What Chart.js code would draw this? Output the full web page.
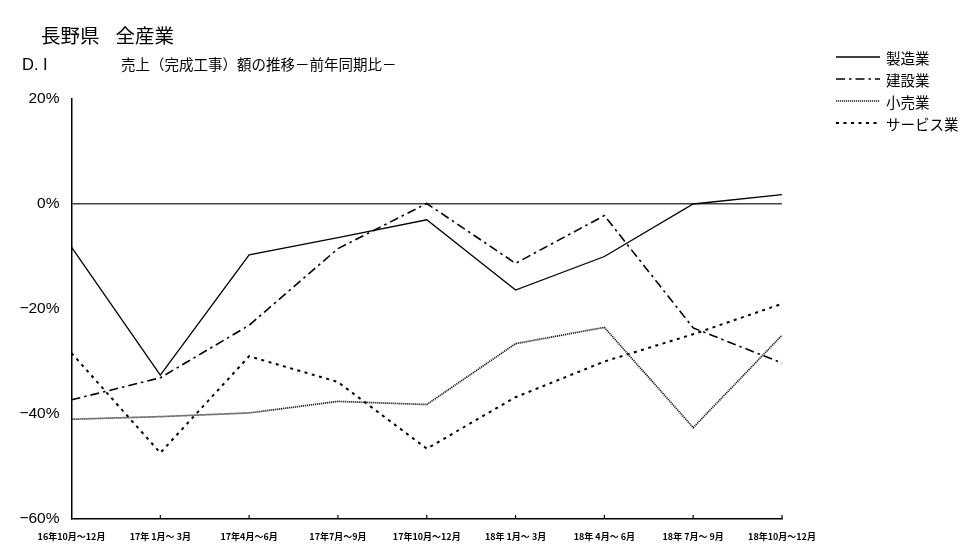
<!DOCTYPE html>
<html>
<head>
<meta charset="utf-8">
<script src="https://cdn.jsdelivr.net/npm/chart.js@4.4.1/dist/chart.umd.min.js"></script>
<style>
  body { margin: 0; background: #fff; }
  #wrap { position: relative; width: 980px; height: 560px; }
  .txt { position: absolute; white-space: pre; color: #000; font-family: "Noto Sans CJK JP", sans-serif; }
</style>
</head>
<body>
<div id="wrap">
  <canvas id="mychart" width="980" height="560"></canvas>
  <div class="txt" style="left:41px; top:22px; font-size:19.5px; line-height:25px;">長野県<span style="margin-left:16px">全産業</span></div>
  <div class="txt" style="left:22px; top:54px; font-size:16.5px; line-height:21px; font-family:'Liberation Sans', sans-serif;">D. I</div>
  <div class="txt" style="left:121px; top:54px; font-size:14.5px; line-height:20px;">売上（完成工事）額の推移－前年同期比－</div>
</div>
<script>
// 期間（横軸）
var labels = ['16年10月～12月', '17年 1月～ 3月', '17年4月～6月', '17年7月～9月', '17年10月～12月',
              '18年 1月～ 3月', '18年 4月～ 6月', '18年 7月～ 9月', '18年10月～12月'];
// 業種名
var seriesNames = ['製造業', '建設業', '小売業', 'サービス業'];
// D.I 値（%）
var seizo   = [-8.2, -32.6, -9.7, -6.4, -3.0, -16.4, -10.0, 0.0, 1.8];
var kensetsu = [-37.3, -33.1, -23.1, -8.5, 0.1, -11.3, -2.2, -23.6, -30.3];
var kouri   = [-41.0, -40.5, -39.8, -37.6, -38.2, -26.6, -23.5, -42.6, -25.0];
var service = [-28.4, -47.4, -29.0, -33.9, -46.6, -36.8, -30.0, -24.8, -19.0];
// 縦軸目盛
var yTicks = [20, 0, -20, -40, -60];

// x軸の内向き目盛と凡例を描く
var extras = {
  id: 'extras',
  afterDraw: function(chart) {
    var ctx = chart.ctx;
    var xs = chart.scales.x;
    var bottom = chart.chartArea.bottom;
    ctx.save();
    ctx.strokeStyle = '#000';
    ctx.lineWidth = 1.2;
    ctx.setLineDash([]);
    for (var i = 1; i < xs.ticks.length; i++) {
      var x = xs.getPixelForTick(i);
      ctx.beginPath();
      ctx.moveTo(x, bottom);
      ctx.lineTo(x, bottom - 4);
      ctx.stroke();
    }
    // 凡例
    var ds = chart.data.datasets;
    for (var k = 0; k < ds.length; k++) {
      var y = 57 + k * 22;
      ctx.beginPath();
      ctx.setLineDash(ds[k].borderDash || []);
      ctx.strokeStyle = ds[k].borderColor;
      ctx.lineWidth = ds[k].borderWidth;
      ctx.moveTo(836, y);
      ctx.lineTo(880, y);
      ctx.stroke();
      ctx.setLineDash([]);
      ctx.fillStyle = '#000';
      ctx.font = '14.5px "Noto Sans CJK JP"';
      ctx.textBaseline = 'middle';
      ctx.fillText(ds[k].label, 886, y + 1);
    }
    ctx.restore();
  }
};

var config = {
  type: 'line',
  data: {
    labels: labels,
    datasets: [
      { label: seriesNames[0], data: seizo, borderColor: '#000', borderWidth: 1.3, borderDash: [] },
      { label: seriesNames[1], data: kensetsu, borderColor: '#000', borderWidth: 1.6, borderDash: [9, 4, 2.5, 4] },
      { label: seriesNames[2], data: kouri, borderColor: '#1a1a1a', borderWidth: 1.7, borderDash: [1.2, 0.8] },
      { label: seriesNames[3], data: service, borderColor: '#000', borderWidth: 2, borderDash: [3, 4.5] }
    ]
  },
  options: {
    responsive: false,
    animation: false,
    elements: { point: { radius: 0 }, line: { tension: 0 } },
    layout: { padding: { top: 99, right: 198, bottom: 0, left: 0 } },
    plugins: { legend: { display: false }, tooltip: { enabled: false } },
    scales: {
      x: {
        offset: false,
        grid: { display: false, drawTicks: false },
        border: { display: true, color: '#000', width: 1.5 },
        ticks: {
          color: '#000', padding: 12, maxRotation: 0, autoSkip: false,
          font: { family: '"Noto Sans CJK JP"', size: 9, weight: 'bold' }
        },
        afterFit: function(s) { s.height = 41; }
      },
      y: {
        min: -60, max: 20,
        afterBuildTicks: function(s) { s.ticks = yTicks.map(function(v) { return { value: v }; }); },
        grid: {
          drawTicks: false,
          color: function(c) { return c.tick && c.tick.value === 0 ? '#444' : 'rgba(0,0,0,0)'; },
          lineWidth: 1.5
        },
        border: { display: true, color: '#000', width: 1.5 },
        ticks: {
          color: '#000', padding: 12,
          font: { family: '"Liberation Sans"', size: 15.5 },
          callback: function(v) { return (v < 0 ? '\u2212' + Math.abs(v) : v) + '%'; }
        },
        afterFit: function(s) { s.width = 71.5; }
      }
    }
  },
  plugins: [extras]
};

var ctx = document.getElementById('mychart').getContext('2d');
window.myLine = new Chart(ctx, config);
</script>
</body>
</html>
